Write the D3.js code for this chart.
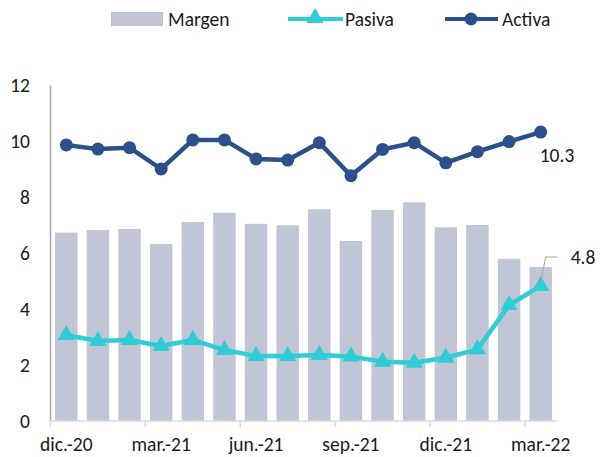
<!DOCTYPE html>
<html>
<head>
<meta charset="utf-8">
<script src="https://cdn.jsdelivr.net/npm/d3@7"></script>
<style>
  body { margin: 0; background: #fff; }
  svg text { font-family: Carlito, Calibri, Lato, sans-serif; fill: #1a1a1a; }
</style>
</head>
<body>
<div id="chart"></div>
<script>
const months = ['dic.-20', 'ene.-21', 'feb.-21', 'mar.-21', 'abr.-21', 'may.-21', 'jun.-21', 'jul.-21',
                'ago.-21', 'sep.-21', 'oct.-21', 'nov.-21', 'dic.-21', 'ene.-22', 'feb.-22', 'mar.-22'];
const margen = [6.73, 6.82, 6.86, 6.32, 7.11, 7.44, 7.04, 6.99, 7.56, 6.43, 7.54, 7.81, 6.92, 7.00, 5.79, 5.50];
const pasiva = [3.07, 2.86, 2.89, 2.68, 2.89, 2.54, 2.32, 2.32, 2.36, 2.30, 2.12, 2.08, 2.26, 2.56, 4.14, 4.82];
const activa = [9.86, 9.71, 9.76, 9.00, 10.04, 10.04, 9.36, 9.32, 9.94, 8.76, 9.70, 9.94, 9.22, 9.62, 9.98, 10.32];
const yTicks = [0, 2, 4, 6, 8, 10, 12];
const labelEvery = 3;

const width = 600, height = 457;
const margin = { top: 85, right: 43, bottom: 36, left: 50 };
const colors = { margen: '#c0c6d6', pasiva: '#2fcdd5', activa: '#2c5089' };
const fontSize = '19.5px';

const svg = d3.select('#chart').append('svg')
    .attr('width', width)
    .attr('height', height);

const x = d3.scaleBand()
    .domain(months)
    .range([margin.left, width - margin.right])
    .paddingInner(0.29)
    .paddingOuter(0.16);

const y = d3.scaleLinear()
    .domain([0, 12])
    .range([height - margin.bottom, margin.top]);

const cx = d => x(d) + x.bandwidth() / 2;
const gap = (x.step() - x.bandwidth()) / 2;
const x0 = margin.left, x1 = width - margin.right;

// Bars
svg.append('g')
    .selectAll('rect')
    .data(months)
    .join('rect')
    .attr('x', d => x(d))
    .attr('y', (d, i) => y(margen[i]))
    .attr('width', x.bandwidth())
    .attr('height', (d, i) => y(0) - y(margen[i]))
    .attr('fill', colors.margen);

// Y axis
const yAxis = svg.append('g')
    .attr('transform', `translate(${x0},0)`)
    .call(d3.axisLeft(y).tickValues(yTicks).tickSize(0).tickPadding(20));
yAxis.select('.domain').attr('stroke', '#a6a6a6').attr('stroke-width', 1.5);
yAxis.selectAll('text').style('font-size', fontSize).attr('fill', '#1a1a1a');

// X axis: ticks at boundaries every 3 categories, labels centered
const xg = svg.append('g');
xg.append('line')
    .attr('x1', x0).attr('x2', x1)
    .attr('y1', y(0)).attr('y2', y(0))
    .attr('stroke', '#d9d9d9').attr('stroke-width', 1.5);
const tickIdx = d3.range(0, months.length, labelEvery);
xg.selectAll('.tk')
    .data(tickIdx)
    .join('line')
    .attr('x1', i => x(months[i]) - gap)
    .attr('x2', i => x(months[i]) - gap)
    .attr('y1', y(0)).attr('y2', y(0) + 6)
    .attr('stroke', '#d9d9d9').attr('stroke-width', 1.5);
xg.selectAll('.lb')
    .data(tickIdx)
    .join('text')
    .attr('x', i => cx(months[i]))
    .attr('y', y(0) + 30)
    .attr('text-anchor', 'middle')
    .style('font-size', fontSize)
    .text(i => months[i]);

// Lines
const line = d3.line().x(d => cx(d.m)).y(d => y(d.v));
const pData = months.map((m, i) => ({ m, v: pasiva[i] }));
const aData = months.map((m, i) => ({ m, v: activa[i] }));

svg.append('path')
    .datum(pData)
    .attr('d', line)
    .attr('fill', 'none')
    .attr('stroke', colors.pasiva)
    .attr('stroke-width', 4.5)
    .attr('stroke-linejoin', 'round');

const tri = d3.symbol().type(d3.symbolTriangle).size(130);
svg.append('g')
    .selectAll('path')
    .data(pData)
    .join('path')
    .attr('d', tri)
    .attr('transform', d => `translate(${cx(d.m)},${y(d.v)})`)
    .attr('fill', colors.pasiva);

svg.append('path')
    .datum(aData)
    .attr('d', line)
    .attr('fill', 'none')
    .attr('stroke', colors.activa)
    .attr('stroke-width', 4.5)
    .attr('stroke-linejoin', 'round');

svg.append('g')
    .selectAll('circle')
    .data(aData)
    .join('circle')
    .attr('cx', d => cx(d.m))
    .attr('cy', d => y(d.v))
    .attr('r', 6.5)
    .attr('fill', colors.activa);

// Data labels
const last = months.length - 1;
const lastX = cx(months[last]);
svg.append('text')
    .attr('x', lastX - 1)
    .attr('y', y(activa[last]) + 30)
    .style('font-size', fontSize)
    .text(d3.format('.1f')(activa[last]));

const ly = y(pasiva[last]);
svg.append('path')
    .attr('d', `M${lastX},${ly - 4}L${lastX + 5},${ly - 29}L${lastX + 17},${ly - 29}`)
    .attr('fill', 'none')
    .attr('stroke', '#a6a6a6')
    .attr('stroke-width', 1);
svg.append('text')
    .attr('x', lastX + 30)
    .attr('y', ly - 22)
    .style('font-size', fontSize)
    .text(d3.format('.1f')(pasiva[last]));

// Legend
const lg = svg.append('g');
lg.append('rect').attr('x', 111).attr('y', 12).attr('width', 52).attr('height', 14).attr('fill', colors.margen);
lg.append('text').attr('x', 168).attr('y', 26).style('font-size', fontSize).text('Margen');

lg.append('line').attr('x1', 288).attr('x2', 343).attr('y1', 19).attr('y2', 19)
    .attr('stroke', colors.pasiva).attr('stroke-width', 4);
lg.append('path').attr('d', tri).attr('transform', 'translate(315,18)').attr('fill', colors.pasiva);
lg.append('text').attr('x', 345).attr('y', 26).style('font-size', fontSize).text('Pasiva');

lg.append('line').attr('x1', 445).attr('x2', 498).attr('y1', 19).attr('y2', 19)
    .attr('stroke', colors.activa).attr('stroke-width', 4);
lg.append('circle').attr('cx', 471).attr('cy', 19).attr('r', 6.5).attr('fill', colors.activa);
lg.append('text').attr('x', 502).attr('y', 26).style('font-size', fontSize).text('Activa');
</script>
</body>
</html>
